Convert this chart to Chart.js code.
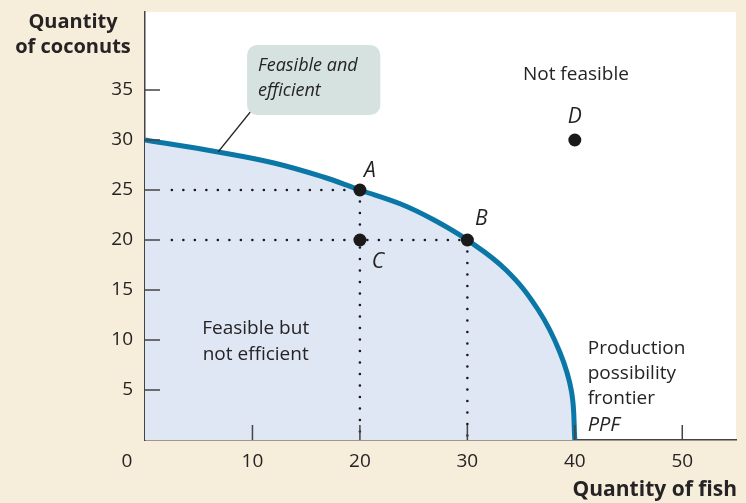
<!DOCTYPE html>
<html>
<head>
<meta charset="utf-8">
<script src="https://cdn.jsdelivr.net/npm/chart.js@4.4.1/dist/chart.umd.min.js"></script>
<style>
  body { margin: 0; background: #f6eddb; }
  canvas { display: block; }
</style>
</head>
<body>
<canvas id="ppfChart" width="746" height="503"></canvas>
<script>
// production possibility frontier
const ppfFish = [0, 6.8, 12, 16.6, 20, 23.8, 26.9, 30, 33.6, 36.6, 38.6, 39.7, 40];
const ppfCoconuts = [30, 28.8, 27.7, 26.3, 25, 23.6, 22, 20, 17, 13, 8.8, 4.8, 0];

const pointNames = ["A", "B", "C", "D"];
const pointFish = [20, 30, 20, 40];
const pointCoconuts = [25, 20, 20, 30];

const xTicks = [10, 20, 30, 40, 50];
const yTicks = [5, 10, 15, 20, 25, 30, 35];

// dotted guide lines: [fromX, fromY, toX, toY]
const guides = [
    [2.5, 25, 20, 25],
    [20, 25, 20, 0],
    [2.5, 20, 30, 20],
    [30, 20, 30, 0]
];

const cream = '#f6eddb';
const fillBlue = '#dfe7f5';
const lineBlue = '#0a77a6';
const ink = '#262324';
const fontName = '"Open Sans", sans-serif';

const ppfData = ppfFish.map((x, i) => ({ x: x, y: ppfCoconuts[i] }));
const pointData = pointFish.map((x, i) => ({ x: x, y: pointCoconuts[i] }));

const guideSets = guides.map(g => ({
    type: 'line',
    data: [{ x: g[0], y: g[1] }, { x: g[2], y: g[3] }],
    borderColor: '#1a1a1a',
    borderWidth: 2.6,
    borderDash: [0, 11.5],
    borderCapStyle: 'round',
    pointRadius: 0,
    fill: false,
    order: 2
}));

const annotations = {
    id: 'annotations',
    beforeDraw(chart) {
        const { ctx, chartArea } = chart;
        ctx.save();
        ctx.fillStyle = cream;
        ctx.fillRect(0, 0, chart.width, chart.height);
        ctx.fillStyle = '#ffffff';
        ctx.fillRect(chartArea.left, chartArea.top, chartArea.right - chartArea.left, chartArea.bottom - chartArea.top);
        ctx.restore();
    },
    afterDatasetsDraw(chart) {
        const { ctx, chartArea } = chart;
        const xs = chart.scales.x, ys = chart.scales.y;
        const px = v => xs.getPixelForValue(v);
        const py = v => ys.getPixelForValue(v);
        ctx.save();

        // tick marks pointing into the plot
        ctx.strokeStyle = '#444';
        ctx.lineWidth = 1.5;
        ctx.beginPath();
        for (const v of yTicks) {
            ctx.moveTo(chartArea.left, py(v));
            ctx.lineTo(chartArea.left + 15, py(v));
        }
        for (const v of xTicks) {
            ctx.moveTo(px(v), chartArea.bottom);
            ctx.lineTo(px(v), chartArea.bottom - 15);
        }
        ctx.stroke();

        // point letters
        ctx.fillStyle = ink;
        ctx.font = 'italic 21px ' + fontName;
        ctx.textAlign = 'center';
        ctx.textBaseline = 'middle';
        const offs = { A: [10, -19], B: [14, -21], C: [18, 22], D: [0, -23] };
        pointNames.forEach((n, i) => {
            ctx.fillText(n, px(pointFish[i]) + offs[n][0], py(pointCoconuts[i]) + offs[n][1]);
        });

        // region labels
        ctx.font = '19px ' + fontName;
        ctx.fillText('Not feasible', px(40.1), py(36.5));
        ctx.fillText('Feasible but', px(10.3), py(11.1));
        ctx.fillText('not efficient', px(10.3), py(8.5));

        ctx.textAlign = 'left';
        ctx.fillText('Production', px(41.2), py(9.1));
        ctx.fillText('possibility', px(41.2), py(6.6));
        ctx.fillText('frontier', px(41.2), py(4.1));
        ctx.font = 'italic 20px ' + fontName;
        ctx.fillText('PPF', px(41.2), py(1.5));

        // callout box with leader line
        ctx.strokeStyle = '#222';
        ctx.lineWidth = 1.2;
        ctx.beginPath();
        ctx.moveTo(px(9.8), py(32.8));
        ctx.lineTo(px(6.8), py(28.8));
        ctx.stroke();

        const bx = px(9.5), by = py(39.5), bw = px(21.9) - bx, bh = py(32.5) - by;
        ctx.fillStyle = '#d5e2e0';
        ctx.beginPath();
        ctx.roundRect(bx, by, bw, bh, 10);
        ctx.fill();
        ctx.fillStyle = ink;
        ctx.font = 'italic 18px ' + fontName;
        ctx.fillText('Feasible and', bx + 11, by + 21);
        ctx.fillText('efficient', bx + 11, by + 46);

        // axis titles and the corner zero
        ctx.font = 'bold 20px ' + fontName;
        ctx.textAlign = 'center';
        ctx.fillText('Quantity', 73, 22);
        ctx.fillText('of coconuts', 73, 47);
        ctx.textAlign = 'right';
        ctx.font = 'bold 21px ' + fontName;
        ctx.fillText('Quantity of fish', 737, 490);
        ctx.textAlign = 'center';
        ctx.font = '19px ' + fontName;
        ctx.fillText('0', 127, 462);
        ctx.restore();
    }
};

const ctx = document.getElementById('ppfChart').getContext('2d');
const ppfChart = new Chart(ctx, {
    type: 'line',
    data: {
        datasets: [
            {
                type: 'scatter',
                data: pointData,
                backgroundColor: '#1a1a1a',
                borderWidth: 0,
                pointRadius: 6.5,
                order: 0
            },
            {
                data: ppfData,
                borderColor: lineBlue,
                borderWidth: 5,
                backgroundColor: fillBlue,
                fill: 'origin',
                tension: 0.4,
                pointRadius: 0,
                order: 3
            },
            ...guideSets
        ]
    },
    options: {
        responsive: false,
        devicePixelRatio: 1,
        animation: false,
        layout: { padding: { top: 12, right: 10, left: 0, bottom: 0 } },
        plugins: {
            legend: { display: false },
            tooltip: { enabled: false }
        },
        scales: {
            x: {
                type: 'linear',
                min: 0,
                max: 55,
                afterBuildTicks: s => { s.ticks = xTicks.map(v => ({ value: v })); },
                afterFit: s => { s.height = 63; s.paddingLeft = 0; s.paddingRight = 0; },
                grid: { drawOnChartArea: false, drawTicks: false },
                border: { color: '#444', width: 1.5 },
                ticks: { color: ink, padding: 10, font: { family: fontName, size: 19 } }
            },
            y: {
                type: 'linear',
                min: 0,
                max: 42.8,
                afterBuildTicks: s => { s.ticks = yTicks.map(v => ({ value: v })); },
                afterFit: s => { s.width = 145; s.paddingTop = 0; s.paddingBottom = 0; },
                grid: { drawOnChartArea: false, drawTicks: false },
                border: { color: '#444', width: 1.5 },
                ticks: { color: ink, padding: 12, font: { family: fontName, size: 19 } }
            }
        }
    },
    plugins: [annotations]
});
</script>
</body>
</html>
